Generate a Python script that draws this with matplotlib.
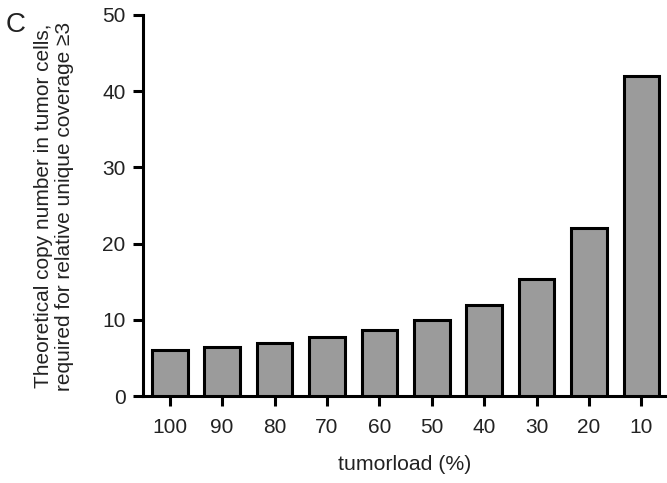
import matplotlib
matplotlib.use("Agg")
import matplotlib.pyplot as plt

categories = ["100", "90", "80", "70", "60", "50", "40", "30", "20", "10"]
values = [6.0, 6.4, 7.0, 7.7, 8.7, 10.0, 12.0, 15.3, 22.0, 42.0]
yticks = [0, 10, 20, 30, 40, 50]

plt.rcParams['font.family'] = ['Liberation Sans', 'DejaVu Sans']

fig = plt.figure(figsize=(6.67, 4.83), dpi=100)
ax = fig.add_axes([0.214, 0.180, 0.7846, 0.7894])

x = list(range(len(categories)))
ax.bar(x, values, width=0.68, color='#9b9b9b', edgecolor='black', linewidth=2.2, zorder=3)

ax.set_xlim(-0.515, 9.47)
ax.set_ylim(0, 50)
ax.set_yticks(yticks)
ax.set_xticks(x)
ax.set_xticklabels(categories)

for s in ['top', 'right']:
    ax.spines[s].set_visible(False)
for s in ['left', 'bottom']:
    ax.spines[s].set_linewidth(2.2)
    ax.spines[s].set_capstyle('projecting')

ax.tick_params(axis='both', direction='out', length=7.5, width=2.2, labelsize=15, colors='black', labelcolor='#222222')
ax.tick_params(axis='y', pad=5)
ax.tick_params(axis='x', pad=8)

fig.text(0.6063, 0.0373, 'tumorload (%)', ha='center', va='center', fontsize=15.3, color='#222222')

fig.text(0.081, 0.573, 'Theoretical copy number in tumor cells,\nrequired for relative unique coverage ≥3',
         rotation=90, ha='center', va='center', fontsize=15, color='#222222', linespacing=1.12)

fig.text(0.008, 0.976, 'C', ha='left', va='top', fontsize=20, color='#222222')

fig.savefig('out.png', dpi=100)
